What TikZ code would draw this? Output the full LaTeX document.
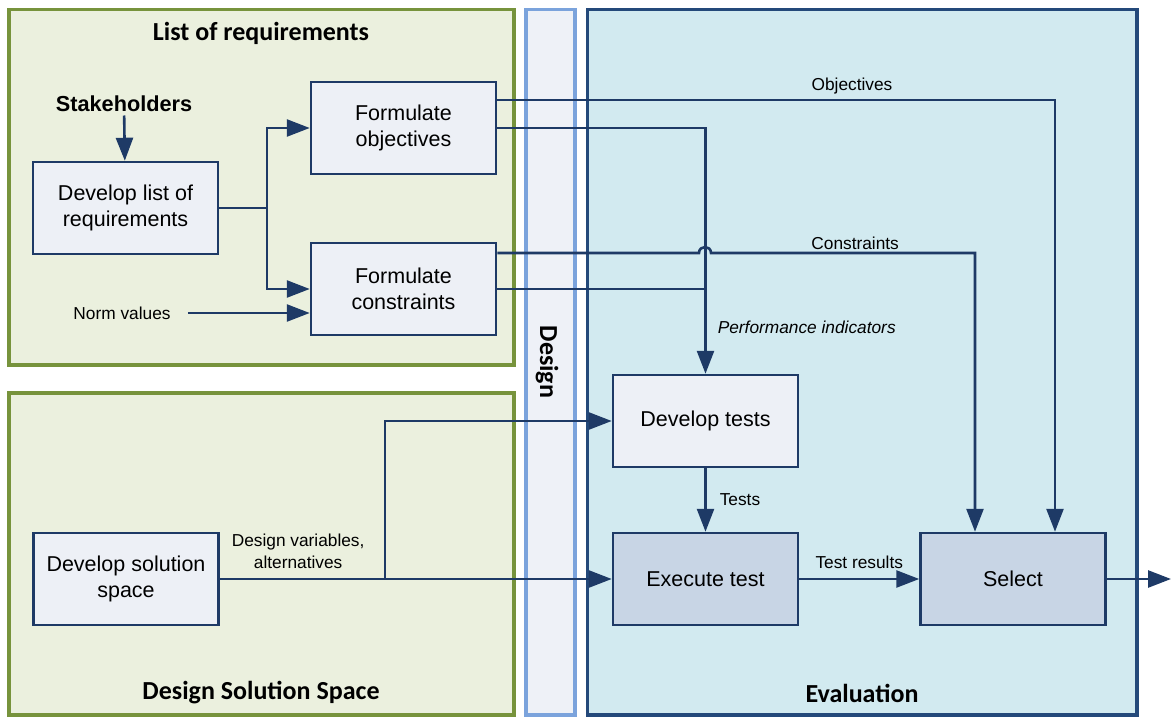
\documentclass[tikz,border=0pt]{standalone}
\usepackage{fontspec}
\setmainfont{Liberation Sans}
\newfontfamily\headfont{Carlito}
\usetikzlibrary{arrows.meta}
\definecolor{navy}{HTML}{1E3A66}
\definecolor{lorfill}{HTML}{EBF0DE}
\definecolor{lorline}{HTML}{77933C}
\definecolor{dsnfill}{HTML}{EEF1F7}
\definecolor{dsnline}{HTML}{7BA3DC}
\definecolor{evalfill}{HTML}{D2EAF0}
\definecolor{evalline}{HTML}{24497A}
\definecolor{boxfill}{HTML}{EDF0F6}
\definecolor{darkbox}{HTML}{C8D5E5}
\tikzset{
  >={Triangle[length=23pt,width=17pt]},
  {green panel/.style} ={draw=lorline,fill=lorfill,line width=3.5pt},
  {design panel/.style} ={draw=dsnline,fill=dsnfill,line width=3.5pt},
  {eval panel/.style} ={draw=evalline,fill=evalfill,line width=3.5pt},
  {title/.style} ={font=\headfont\bfseries\fontsize{26}{31}\selectfont},
  {task/.style} ={rectangle,draw=navy,fill=boxfill,line width=2.5pt,
                  minimum width=185pt,minimum height=92pt,align=center,
                  font=\fontsize{21.5}{26}\selectfont},
  {run task/.style} ={task,fill=darkbox},
  {label/.style} ={font=\fontsize{17.3}{22}\selectfont,align=center,inner sep=0},
  {flow/.style} ={draw=navy,line width=2.6pt},
}
\begin{document}
\begin{tikzpicture}[x=1pt,y=-1pt]
\useasboundingbox[fill=white] (0,0) rectangle (1171,717);
% panels
\draw[green panel] (9,9.5) rectangle (514,365);
\draw[green panel] (9,393) rectangle (514,715);
\draw[design panel] (526,9.5) rectangle (575,715);
\draw[eval panel] (587.5,9.5) rectangle (1137,715);
\node[title] (lortitle) at (261,33) {List of requirements};
\node[title] (dsstitle) at (261,693) {Design Solution Space};
\node[title,rotate=-90] (dsntitle) at (547,362) {Design};
\node[title] (evaltitle) at (862,693) {Evaluation};
% tasks
\node[task] (dlr) at (125.5,208) {Develop list of\\requirements};
\node[task] (fobj) at (403.5,128) {Formulate\\objectives};
\node[task] (fcon) at (403.5,289) {Formulate\\constraints};
\node[task] (dss) at (126,579) {Develop solution\\space};
\node[task] (dtest) at (705.5,421) {Develop tests};
\node[run task] (exec) at (705.5,579) {Execute test};
\node[run task] (sel) at (1013,579) {Select};
\node[font=\bfseries\fontsize{21.7}{26}\selectfont] (stake) at (124,104) {Stakeholders};
\node[label] (norm) at (122,313) {Norm values};
% helpers
\coordinate (fork) at (267,208);
\coordinate (split) at (385,579);
\coordinate (hopL) at (699,253);
\coordinate (hopR) at (711,253);
\coordinate (out) at (1171,579);
% connectors
\draw[flow,->] (stake) -- (dlr);
\draw[flow] (dlr.east) -- (fork);
\draw[flow,->] (fork) |- (fobj.west);
\draw[flow,->] (fork) |- (fcon.west);
\draw[flow,->] ([xshift=17pt]norm.east) -- (norm.east -| fcon.west);
\draw[flow,->] ([yshift=28pt]fobj.east) -| ([xshift=42pt]sel.north)
  node[label,pos=0.318,above=5pt] {Objectives};
\draw[flow,->] (fobj.east) -| (dtest.north)
  node[label,pos=0.905,right=11pt,font=\itshape\fontsize{17.3}{22}\selectfont] {Performance indicators};
\draw[flow] (fcon.east) -- (fcon.east -| dtest.north);
\draw[flow,->] ([yshift=36pt]fcon.east) -- (hopL)
  .. controls +(0,-8) and +(0,-8) .. (hopR) -| ([xshift=-38pt]sel.north)
  node[label,pos=0.273,above=2pt] {Constraints};
\draw[flow,->] (dss.east) -- (exec.west)
  node[label,pos=0.2,above=9pt] {Design variables,\\alternatives};
\draw[flow,->] (split) |- (dtest.west);
\draw[flow,->] (dtest) -- (exec) node[label,midway,right=13pt] {Tests};
\draw[flow,->] (exec) -- (sel) node[label,midway,above=9pt] {Test results};
\draw[flow,->] (sel) -- (out);
\end{tikzpicture}
\end{document}
